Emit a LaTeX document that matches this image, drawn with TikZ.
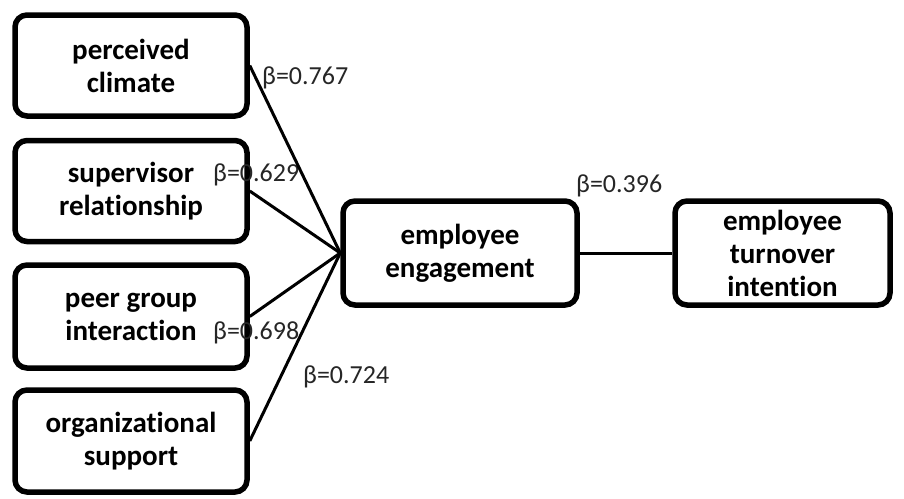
\documentclass[tikz,border=0pt]{standalone}
\usepackage{fontspec}
\setmainfont[Ligatures=NoCommon]{Carlito}
\begin{document}
\begin{tikzpicture}[x=1pt,y=-1pt,
  box/.style={draw, line width=5.5pt, rounded corners=12pt, align=center,
    inner sep=0pt, font=\bfseries\fontsize{29}{33}\selectfont},
  lbl/.style={anchor=west, inner sep=0pt, text=black!85, font=\fontsize{26}{28}\selectfont},
  link/.style={line width=3pt}]
\useasboundingbox (0,0) rectangle (904,498);
\node[box, minimum width=232pt, minimum height=101pt] (pc) at (131,65.5) {perceived\\climate};
\node[box, minimum width=232pt, minimum height=101pt] (sr) at (131,191) {supervisor\\relationship};
\node[box, minimum width=232pt, minimum height=103pt] (pg) at (131,316.5) {peer group\\interaction};
\node[box, minimum width=232pt, minimum height=102pt] (os) at (131,441) {organizational\\support};
\node[box, minimum width=234pt, minimum height=104pt] (ee) at (460,253) {employee\\engagement};
\node[box, minimum width=215pt, minimum height=104pt] (et) at (782.5,253) {employee\\turnover\\intention};
\node[lbl] (l1) at (262,78) {β=0.767};
\node[lbl] (l2) at (213,175) {β=0.629};
\node[lbl] (l3) at (213,333) {β=0.698};
\node[lbl] (l4) at (303,377) {β=0.724};
\node[lbl] (l5) at (576,186) {β=0.396};
\draw[link] (pc.east) -- (ee.west);
\draw[link] (sr.east) -- (ee.west);
\draw[link] (pg.east) -- (ee.west);
\draw[link] (os.east) -- (ee.west);
\draw[link] (ee.east) -- (et.west);
\end{tikzpicture}
\end{document}
